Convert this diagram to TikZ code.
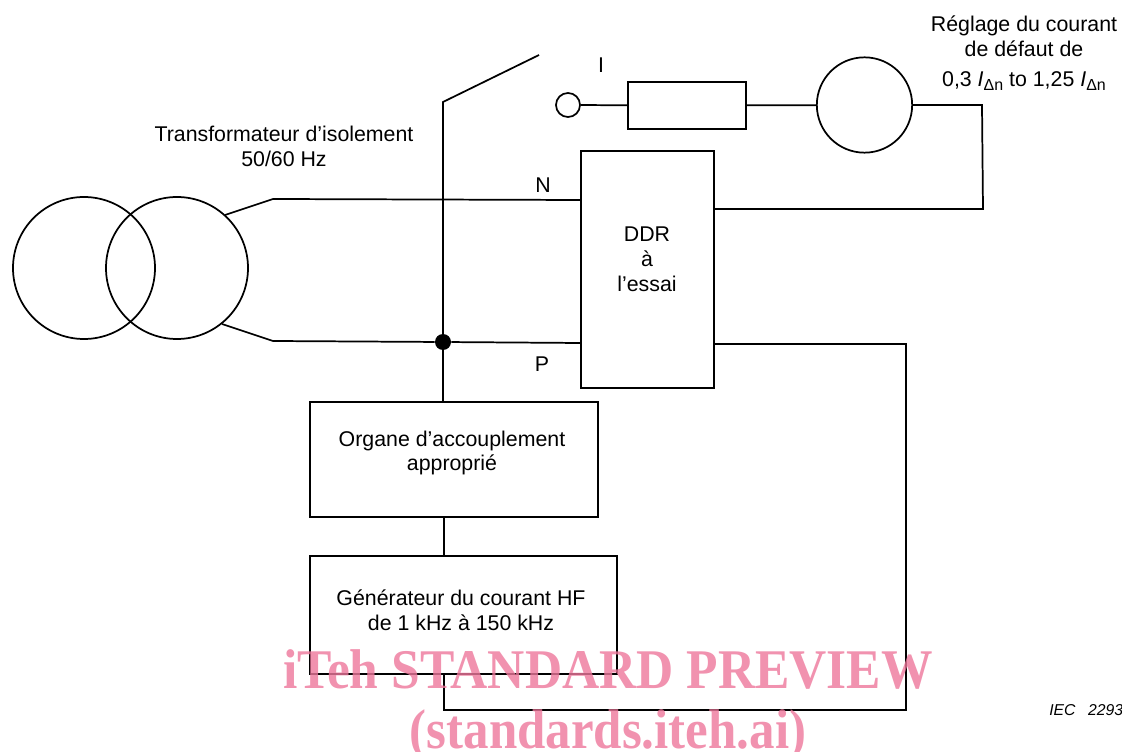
\documentclass[tikz,border=0pt]{standalone}
\usepackage{fontspec}
\setmainfont{Liberation Sans}
\newfontfamily\wmfont{Liberation Serif}
\definecolor{wmpink}{RGB}{237,119,155}
\tikzset{
  wire/.style={line width=1.3pt,line join=miter},
  part/.style={draw,line width=1.3pt,rectangle,inner sep=0pt,align=center,font=\lbl},
  ring/.style={draw,line width=1.3pt,circle,inner sep=0pt},
  lab/.style={inner sep=0pt,align=center,font=\lbl},
  wm/.style={inner sep=0pt,anchor=base,font=\wmfont\bfseries\fontsize{42}{42}\selectfont,text=wmpink,text opacity=.8}
}
\newcommand{\lbl}{\fontsize{16}{18.6}\selectfont}
\newcommand{\subd}{\raisebox{-3pt}{\fontsize{12}{12}\selectfont Δn}}
\begin{document}
\begin{tikzpicture}[x=0.75pt,y=-0.75pt]
\useasboundingbox (0,0) rectangle (1122,752);
% rings
\node[ring,minimum size=106.5pt] (t1) at (84,268) {};
\node[ring,minimum size=106.5pt] (t2) at (177,268) {};
\node[ring,minimum size=18pt] (c) at (568,105) {};
\node[ring,minimum size=71.5pt] (g) at (864.5,105) {};
% boxes
\node[part,minimum width=88.5pt,minimum height=35.25pt] (r) at (687,105.5) {};
\node[part,minimum width=99.75pt,minimum height=177.75pt] (ddr) at (647.5,269.5) {};
\node[part,minimum width=216pt,minimum height=86.25pt] (org) at (454,459.5) {};
\node[part,minimum width=230.25pt,minimum height=88.5pt] (gen) at (463.5,615) {};
\node[lab] at (647,259.5) {DDR\\à\\l’essai};
\node[lab] at (452,453) {Organe d’accouplement\\approprié};
\node[lab] at (461,610.5) {Générateur du courant HF\\de 1 kHz à 150 kHz};
% junction and free coordinates
\node[circle,fill=black,inner sep=0pt,minimum size=12pt] (j) at (443,342) {};
\coordinate (sw0) at (443,102);
\coordinate (sw1) at (539,55);
\coordinate (a1) at (273,199);
\coordinate (a2) at (273,341);
\coordinate (ns) at (225,215);
\coordinate (ps) at (222,324);
\coordinate (n2) at (581,200);
\coordinate (p2) at (581,343);
\coordinate (d1) at (714,209);
\coordinate (e1) at (983,209);
\coordinate (e2) at (982,105);
\coordinate (d2) at (714,344);
\coordinate (f1) at (906,344);
\coordinate (f2) at (906,710);
\coordinate (f3) at (444,710);
\coordinate (f4) at (444,674);
\coordinate (o1) at (443,402);
\coordinate (o2) at (444,517);
\coordinate (o3) at (444,556);
% wires
\draw[wire] (sw1) -- (sw0) -- (o1);
\draw[wire] (ns) -- (a1) -- (n2);
\draw[wire] (ps) -- (a2) -- (j) -- (p2);
\draw[wire] (c) -- (r);
\draw[wire] (r) -- (g);
\draw[wire] (g) -- (e2) -- (e1) -- (d1);
\draw[wire] (d2) -- (f1) -- (f2) -- (f3) -- (f4);
\draw[wire] (o2) -- (o3);
% labels
\node[lab] at (284,146) {Transformateur d’isolement\\50/60 Hz};
\node[lab] at (1024,36) {Réglage du courant\\de défaut de};
\node[lab,anchor=base] at (1024,87) {0,3 \textit{I}\subd{} to 1,25 \textit{I}\subd};
\node[lab] at (601,65) {I};
\node[lab] at (543,185) {N};
\node[lab] at (542,364) {P};
\node[inner sep=0pt,anchor=west,font=\itshape\fontsize{11.8}{13}\selectfont] at (1049,710) {IEC\hspace{9.5pt}2293};
% watermark
\node[wm] at (608,688) {\scalebox{.92}[1]{iTeh STANDARD PREVIEW}};
\node[wm] at (608,748) {\scalebox{.91}[1]{(standards.iteh.ai)}};
\end{tikzpicture}
\end{document}
